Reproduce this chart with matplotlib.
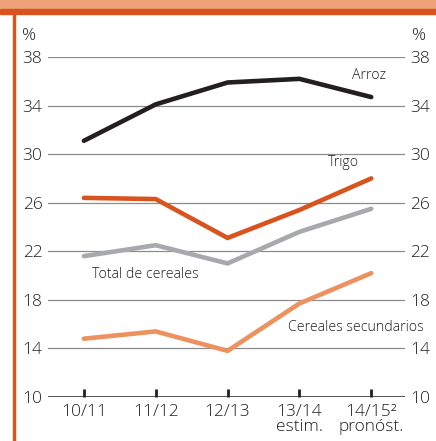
import matplotlib.pyplot as plt
from matplotlib.patches import Rectangle

plt.rcParams['font.family'] = ['Open Sans', 'DejaVu Sans']
plt.rcParams['font.weight'] = 'light'

# campañas y valores (%)
seasons = ['10/11', '11/12', '12/13', '13/14\nestim.', '14/15²\npronóst.']
arroz = [31.1, 34.1, 35.9, 36.2, 34.7]
trigo = [26.4, 26.3, 23.1, 25.4, 28.0]
total = [21.6, 22.5, 21.0, 23.6, 25.5]
secundarios = [14.8, 15.4, 13.8, 17.7, 20.2]
yticks = [10, 14, 18, 22, 26, 30, 34, 38]

W, H = 436, 441
fig = plt.figure(figsize=(W / 100, H / 100), dpi=100)

# marco naranja
fig.patches.append(Rectangle((0, 1 - 9 / H), 1, 9 / H, transform=fig.transFigure,
                             color='#EDA27A', zorder=0))
fig.patches.append(Rectangle((0, 1 - 13.5 / H), 1, 4.5 / H, transform=fig.transFigure,
                             color='#D9531E', zorder=0))
fig.patches.append(Rectangle((13 / W, 0), 2.2 / W, 1 - 13 / H, transform=fig.transFigure,
                             color='#D9531E', zorder=0))

ax = fig.add_axes([48 / W, 1 - 397 / H, (405 - 48) / W, (397 - 57) / H])
x = range(len(seasons))

style = dict(lw=3.3, solid_joinstyle='miter', solid_capstyle='round', zorder=3, clip_on=False)
ax.plot(x, arroz, color='#231F20', **style)
ax.plot(x, trigo, color='#D9531E', **style)
ax.plot(x, total, color='#A7A9AC', **style)
ax.plot(x, secundarios, color='#EE9160', **style)

ax.set_xlim(-0.5, 4.47)
ax.set_ylim(10, 38)
for v in yticks[1:]:
    ax.axhline(v, color='#8C8C8C', lw=0.9, zorder=1)
ax.axhline(10, color='#231F20', lw=1.8, zorder=2)

for s in ax.spines.values():
    s.set_visible(False)

ax.set_yticks(yticks)
ax.tick_params(axis='y', length=0, labelsize=12.5, labelcolor='#231F20',
               left=False, right=False, labelleft=True, labelright=True, pad=4)
ax.set_xticks(list(x))
ax.set_xticklabels(seasons, fontsize=12.5, color='#231F20', linespacing=0.9)
ax.tick_params(axis='x', direction='in', length=6, width=2, color='#231F20', pad=5)

fig.text(22 / W, 1 - 36 / H, '%', fontsize=12.5, color='#231F20', va='center')
fig.text(412 / W, 1 - 36 / H, '%', fontsize=12.5, color='#231F20', va='center')

ax.text(3.97, 36.5, 'Arroz', fontsize=10.2, color='#231F20', ha='center', va='center')
ax.text(3.61, 29.3, 'Trigo', fontsize=10.2, color='#231F20', ha='center', va='center')
ax.text(0.86, 20.1, 'Total de cereales', fontsize=10.2, color='#231F20', ha='center', va='center')
ax.text(3.78, 15.7, 'Cereales secundarios', fontsize=10.2, color='#231F20', ha='center', va='center')

fig.savefig('out.png', dpi=100)
